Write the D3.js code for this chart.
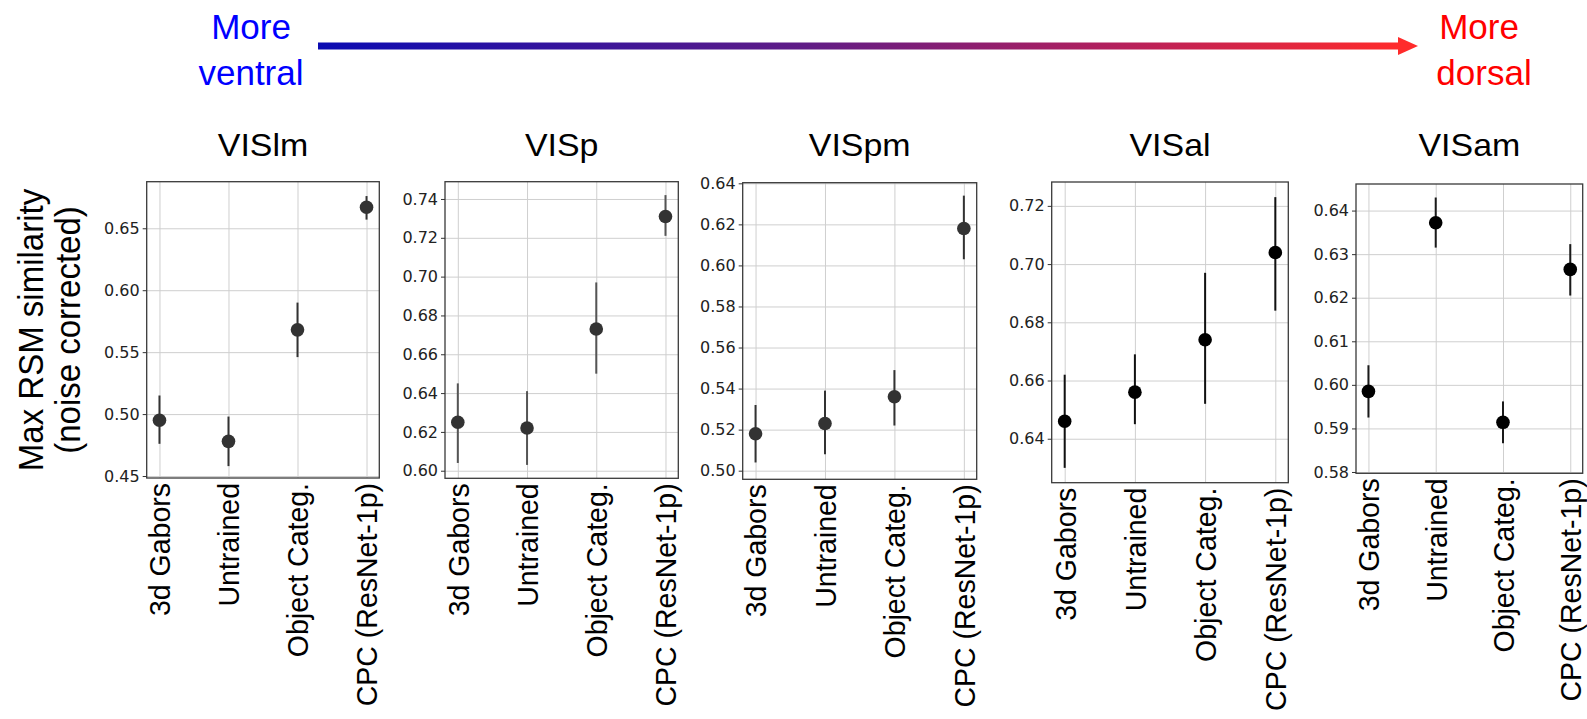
<!DOCTYPE html>
<html>
<head>
<meta charset="utf-8">
<script src="https://cdn.jsdelivr.net/npm/d3@7"></script>
<style>
  body { margin: 0; background: #fff; }
  svg { display: block; }
</style>
</head>
<body>
<svg id="chart" width="1587" height="719"></svg>
<script>
// ---- data ----
const categories = ["3d Gabors", "Untrained", "Object Categ.", "CPC (ResNet-1p)"];
const regions = ["VISlm", "VISp", "VISpm", "VISal", "VISam"];

// max RSM similarity (noise corrected): mean and error-bar bounds per model
const meanVISlm = [0.495, 0.478, 0.568, 0.667];
const lowVISlm  = [0.476, 0.458, 0.546, 0.657];
const highVISlm = [0.515, 0.498, 0.590, 0.676];

const meanVISp  = [0.625, 0.622, 0.673, 0.731];
const lowVISp   = [0.604, 0.603, 0.650, 0.721];
const highVISp  = [0.645, 0.641, 0.697, 0.742];

const meanVISpm = [0.518, 0.523, 0.536, 0.618];
const lowVISpm  = [0.504, 0.508, 0.522, 0.603];
const highVISpm = [0.532, 0.539, 0.549, 0.634];

const meanVISal = [0.646, 0.656, 0.674, 0.704];
const lowVISal  = [0.630, 0.645, 0.652, 0.684];
const highVISal = [0.662, 0.669, 0.697, 0.723];

const meanVISam = [0.5985, 0.6372, 0.5914, 0.6265];
const lowVISam  = [0.5925, 0.6315, 0.5866, 0.6205];
const highVISam = [0.6045, 0.6430, 0.5962, 0.6323];

// y tick labels per panel
const ticksVISlm = [0.45, 0.50, 0.55, 0.60, 0.65];
const ticksVISp  = [0.60, 0.62, 0.64, 0.66, 0.68, 0.70, 0.72, 0.74];
const ticksVISpm = [0.50, 0.52, 0.54, 0.56, 0.58, 0.60, 0.62, 0.64];
const ticksVISal = [0.64, 0.66, 0.68, 0.70, 0.72];
const ticksVISam = [0.58, 0.59, 0.60, 0.61, 0.62, 0.63, 0.64];

// y-axis limits per panel
const limitsVISlm = [0.4484, 0.6876];
const limitsVISp  = [0.5961, 0.7489];
const limitsVISpm = [0.4958, 0.6403];
const limitsVISal = [0.6249, 0.7282];
const limitsVISam = [0.5797, 0.6461];

const panelData = [
  { mean: meanVISlm, low: lowVISlm, high: highVISlm, ticks: ticksVISlm, lim: limitsVISlm },
  { mean: meanVISp,  low: lowVISp,  high: highVISp,  ticks: ticksVISp,  lim: limitsVISp },
  { mean: meanVISpm, low: lowVISpm, high: highVISpm, ticks: ticksVISpm, lim: limitsVISpm },
  { mean: meanVISal, low: lowVISal, high: highVISal, ticks: ticksVISal, lim: limitsVISal },
  { mean: meanVISam, low: lowVISam, high: highVISam, ticks: ticksVISam, lim: limitsVISam }
];

// ---- layout & style ----
const frames = [
  { l: 146.7, r: 379.3, t: 181.7, b: 478.0 },
  { l: 445.0, r: 678.3, t: 181.7, b: 478.3 },
  { l: 742.7, r: 976.7, t: 182.7, b: 479.3 },
  { l: 1051.7, r: 1288.3, t: 182.0, b: 482.7 },
  { l: 1356.0, r: 1582.7, t: 184.0, b: 473.3 }
];
const dotColors = ["#333333", "#333333", "#333333", "#000000", "#000000"];
const barColors = ["#333333", "#555555", "#333333", "#111111", "#1a1a1a"];
const SANS = "'Liberation Sans', Arial, Helvetica, sans-serif";
const TICKFONT = "'DejaVu Sans', sans-serif";
const SX = 1.06; // slight horizontal text stretch

const svg = d3.select("#chart");

// ---- top direction arrow ----
const defs = svg.append("defs");
const grad = defs.append("linearGradient").attr("id", "dirGrad")
  .attr("x1", "0%").attr("x2", "100%").attr("y1", "0%").attr("y2", "0%");
grad.append("stop").attr("offset", "0%").attr("stop-color", "#0b0bb2");
grad.append("stop").attr("offset", "45%").attr("stop-color", "#601c86");
grad.append("stop").attr("offset", "75%").attr("stop-color", "#b8205a");
grad.append("stop").attr("offset", "100%").attr("stop-color", "#ff2b2b");

const arrowX0 = 318, arrowX1 = 1401, arrowTip = 1418, arrowY = 46;
svg.append("rect")
  .attr("x", arrowX0).attr("y", arrowY - 3.5)
  .attr("width", arrowX1 - arrowX0).attr("height", 7)
  .attr("fill", "url(#dirGrad)");
svg.append("path")
  .attr("d", `M${arrowX1 - 3},${arrowY - 9} L${arrowTip},${arrowY} L${arrowX1 - 3},${arrowY + 9} Z`)
  .attr("fill", "#ff2b2b");

function stretchedText(sel, x, y, str, size, color, rot, sx) {
  const s = sx === undefined ? SX : sx;
  return sel.append("text")
    .attr("transform", `translate(${x},${y}) scale(${s},1)` + (rot ? ` rotate(${rot})` : ""))
    .attr("text-anchor", "middle")
    .attr("font-family", SANS)
    .attr("font-size", size)
    .attr("fill", color)
    .text(str);
}

stretchedText(svg, 251, 38.5, "More", 35, "#0000ff", 0, 1);
stretchedText(svg, 251, 84.5, "ventral", 35, "#0000ff", 0, 1);
stretchedText(svg, 1479, 38.5, "More", 35, "#ff0000", 0, 1);
stretchedText(svg, 1484, 84.5, "dorsal", 35, "#ff0000", 0, 1);

// ---- y axis title ----
stretchedText(svg, 43, 330, "Max RSM similarity", 33, "#000", -90);
stretchedText(svg, 80, 330, "(noise corrected)", 33, "#000", -90);

// ---- panels ----
panelData.forEach((pd, k) => {
  const f = frames[k];
  const x = d3.scaleLinear().domain([-0.185, 3.185]).range([f.l, f.r]);
  const y = d3.scaleLinear().domain(pd.lim).range([f.b, f.t]);
  const g = svg.append("g");
  const idx = d3.range(categories.length);

  // grid
  g.append("g")
    .attr("transform", `translate(${f.l},0)`)
    .call(d3.axisLeft(y).tickValues(pd.ticks).tickSize(-(f.r - f.l)).tickFormat(""))
    .call(a => a.select(".domain").remove())
    .call(a => a.selectAll("line").attr("stroke", "#cfcfcf").attr("stroke-width", 1));
  g.append("g")
    .attr("transform", `translate(0,${f.b})`)
    .call(d3.axisBottom(x).tickValues(idx).tickSize(-(f.b - f.t)).tickFormat(""))
    .call(a => a.select(".domain").remove())
    .call(a => a.selectAll("line").attr("stroke", "#cfcfcf").attr("stroke-width", 1));

  // frame
  g.append("rect")
    .attr("x", f.l).attr("y", f.t)
    .attr("width", f.r - f.l).attr("height", f.b - f.t)
    .attr("fill", "none").attr("stroke", "#3a3a3a").attr("stroke-width", 1.3);

  // y ticks and labels
  g.append("g")
    .attr("transform", `translate(${f.l},0)`)
    .call(d3.axisLeft(y).tickValues(pd.ticks).tickSize(4).tickPadding(3).tickFormat(d3.format(".2f")))
    .call(a => a.select(".domain").remove())
    .call(a => a.selectAll("line").attr("stroke", "#333"))
    .call(a => a.selectAll("text")
      .attr("font-family", TICKFONT).attr("font-size", 16).attr("fill", "#222"));

  // x category labels
  idx.forEach(i => {
    g.append("text")
      .attr("transform", `translate(${x(i)},${f.b + 5}) scale(${SX},1) rotate(-90)`)
      .attr("text-anchor", "end")
      .attr("dy", "0.36em")
      .attr("font-family", SANS)
      .attr("font-size", 28.5)
      .attr("fill", "#000")
      .text(categories[i]);
  });

  // error bars
  g.selectAll(".err").data(idx).join("line")
    .attr("x1", i => x(i)).attr("x2", i => x(i))
    .attr("y1", i => y(pd.low[i])).attr("y2", i => y(pd.high[i]))
    .attr("stroke", barColors[k]).attr("stroke-width", 2);

  // points
  g.selectAll(".pt").data(idx).join("circle")
    .attr("cx", i => x(i)).attr("cy", i => y(pd.mean[i]))
    .attr("r", 6.8)
    .attr("fill", dotColors[k]);

  // title
  stretchedText(svg, (f.l + f.r) / 2, 156, regions[k], 32, "#000");
});
</script>
</body>
</html>
